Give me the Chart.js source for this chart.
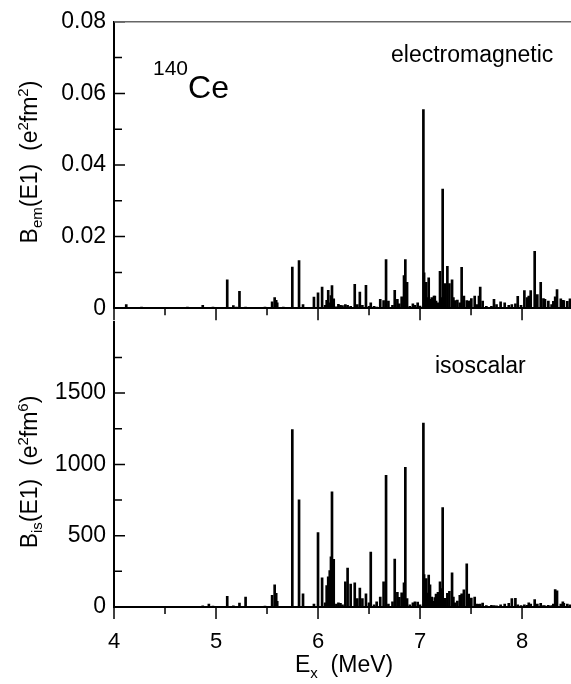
<!DOCTYPE html>
<html>
<head>
<script src="https://cdn.jsdelivr.net/npm/chart.js@4"></script>
<style>
  html, body { margin: 0; padding: 0; background: #fff; overflow: hidden; }
  #wrap { position: relative; width: 571px; height: 684px; }
  canvas { position: absolute; left: 0; }
  #top { top: 0; }
  #bot { top: 300px; }
</style>
</head>
<body>
<div id="wrap">
  <canvas id="bot" width="571" height="384"></canvas>
  <canvas id="top" width="571" height="330"></canvas>
</div>
<script>
// excitation energies (MeV) of the E1 states
const energies = [
  4.12, 4.27, 4.45, 4.60, 4.72, 4.87, 4.93, 4.97, 5.11, 5.17,
  5.20, 5.23, 5.29, 5.35, 5.42, 5.48, 5.55, 5.575, 5.59, 5.60,
  5.66, 5.748, 5.814, 5.853, 5.90, 5.96, 6.00, 6.04, 6.07, 6.085,
  6.10, 6.115, 6.127, 6.137, 6.154, 6.18, 6.20, 6.22, 6.24, 6.268,
  6.29, 6.32, 6.36, 6.385, 6.41, 6.435, 6.47, 6.50, 6.517, 6.55,
  6.575, 6.61, 6.643, 6.667, 6.69, 6.73, 6.752, 6.778, 6.797, 6.82,
  6.843, 6.856, 6.873, 6.90, 6.93, 6.95, 6.977, 7.00, 7.033, 7.04,
  7.06, 7.07, 7.085, 7.098, 7.115, 7.137, 7.145, 7.157, 7.176, 7.196,
  7.208, 7.222, 7.248, 7.268, 7.288, 7.314, 7.327, 7.34, 7.366, 7.39,
  7.408, 7.43, 7.458, 7.477, 7.49, 7.503, 7.536, 7.56, 7.578, 7.59,
  7.614, 7.65, 7.70, 7.725, 7.75, 7.79, 7.83, 7.87, 7.90, 7.935,
  7.958, 7.99, 8.023, 8.05, 8.066, 8.085, 8.124, 8.15, 8.183, 8.21,
  8.225, 8.258, 8.29, 8.307, 8.325, 8.343, 8.38, 8.40, 8.41, 8.444, 8.47
];

// electromagnetic strength B_em(E1), e^2 fm^2
const bEm = [
  0.0010, 0.0003, 0.0002, 0.0002, 0.0003, 0.0008, 0.0002, 0.0003, 0.0079, 0.0007,
  0.0003, 0.0047, 0.0003, 0.0002, 0.0002, 0.0003, 0.0018, 0.0030, 0.0022, 0.0015,
  0.0003, 0.0115, 0.0133, 0.0010, 0.0002, 0.0031, 0.0043, 0.0059, 0.0008, 0.0022,
  0.0050, 0.0015, 0.0035, 0.0063, 0.0026, 0.0004, 0.0011, 0.0008, 0.0007, 0.0010,
  0.0008, 0.0005, 0.0067, 0.0010, 0.0045, 0.0008, 0.0064, 0.0005, 0.0015, 0.0005,
  0.0003, 0.0025, 0.0021, 0.0136, 0.0020, 0.0008, 0.0050, 0.0025, 0.0012, 0.0032,
  0.0091, 0.0136, 0.0072, 0.0005, 0.0012, 0.0008, 0.0015, 0.0006, 0.0555, 0.0099,
  0.0072, 0.0030, 0.0085, 0.0025, 0.0030, 0.0034, 0.0034, 0.0020, 0.0015, 0.0103,
  0.0030, 0.0333, 0.0069, 0.0117, 0.0069, 0.0079, 0.0030, 0.0021, 0.0023, 0.0015,
  0.0114, 0.0034, 0.0021, 0.0020, 0.0020, 0.0027, 0.0034, 0.0010, 0.0034, 0.0059,
  0.0020, 0.0005, 0.0005, 0.0025, 0.0010, 0.0018, 0.0015, 0.0008, 0.0010, 0.0012,
  0.0033, 0.0008, 0.0049, 0.0030, 0.0034, 0.0049, 0.0159, 0.0038, 0.0072, 0.0027,
  0.0025, 0.0020, 0.0010, 0.0019, 0.0032, 0.0052, 0.0026, 0.0022, 0.0021, 0.0019, 0.0026
];

// isoscalar strength B_is(E1), e^2 fm^6
const bIs = [
  5, 2, 3, 3, 5, 8, 20, 6, 75, 8,
  5, 28, 70, 4, 5, 6, 81, 156, 95, 40,
  4, 1245, 752, 93, 5, 20, 522, 205, 30, 150,
  212, 255, 352, 808, 334, 20, 30, 25, 15, 176,
  273, 160, 170, 59, 133, 59, 93, 30, 386, 15,
  36, 70, 176, 924, 20, 36, 336, 102, 68, 100,
  170, 980, 59, 15, 30, 36, 35, 15, 1289, 228,
  200, 98, 223, 156, 70, 40, 66, 90, 102, 176,
  130, 698, 60, 95, 110, 240, 70, 30, 41, 81,
  93, 120, 303, 90, 40, 63, 70, 20, 18, 20,
  27, 10, 12, 10, 8, 15, 20, 25, 59, 60,
  15, 10, 15, 12, 30, 20, 52, 20, 25, 10,
  8, 12, 10, 20, 122, 113, 20, 36, 25, 20, 15
];

const xMajor = [4, 5, 6, 7, 8];
const xMinor = [4.5, 5.5, 6.5, 7.5];
const emMajor = [0, 0.02, 0.04, 0.06, 0.08];
const emMinor = [0.01, 0.03, 0.05, 0.07];
const isMajor = [0, 500, 1000, 1500];
const isMinor = [250, 750, 1250, 1750];

const FONT = '"Liberation Sans", Arial, sans-serif';
Chart.defaults.font.family = FONT;
Chart.defaults.color = '#000';

// draw a run of text pieces of different sizes (sub/superscripts)
function richText(ctx, parts, x, y, center) {
  let w = 0;
  parts.forEach(p => { ctx.font = p[1] + 'px ' + FONT; w += ctx.measureText(p[0]).width; });
  let cx = center ? x - w / 2 : x;
  parts.forEach(p => {
    ctx.font = p[1] + 'px ' + FONT;
    ctx.fillText(p[0], cx, y + (p[2] || 0));
    cx += ctx.measureText(p[0]).width;
  });
}

const decor = {
  id: 'decor',
  afterDraw(chart, args, opts) {
    const { ctx, chartArea: a, scales } = chart;
    ctx.save();
    ctx.strokeStyle = '#000';
    ctx.lineWidth = 1.5;
    ctx.beginPath();
    xMajor.forEach(v => { const p = scales.x.getPixelForValue(v); ctx.moveTo(p, a.bottom); ctx.lineTo(p, a.bottom + 12); });
    xMinor.forEach(v => { const p = scales.x.getPixelForValue(v); ctx.moveTo(p, a.bottom); ctx.lineTo(p, a.bottom + 7); });
    opts.yMajor.forEach(v => { const p = scales.y.getPixelForValue(v); ctx.moveTo(a.left, p); ctx.lineTo(a.left + 11, p); });
    opts.yMinor.forEach(v => { const p = scales.y.getPixelForValue(v); ctx.moveTo(a.left, p); ctx.lineTo(a.left + 8, p); });
    ctx.stroke();
    if (opts.topBorder) {
      ctx.strokeStyle = '#666';
      ctx.beginPath();
      ctx.moveTo(a.left, a.top); ctx.lineTo(a.right, a.top);
      ctx.stroke();
    }
    ctx.fillStyle = '#000';
    ctx.textBaseline = 'alphabetic';
    opts.texts.forEach(t => {
      if (t.rotate) {
        ctx.save();
        ctx.translate(t.x, t.y);
        ctx.rotate(-Math.PI / 2);
        richText(ctx, t.parts, 0, 0, true);
        ctx.restore();
      } else {
        richText(ctx, t.parts, t.x, t.y, false);
      }
    });
    ctx.restore();
  }
};

function makeChart(id, values, cfg) {
  return new Chart(document.getElementById(id), {
    type: 'bar',
    data: {
      datasets: [{
        data: energies.map((e, i) => ({ x: e, y: values[i] })),
        backgroundColor: '#000',
        barThickness: 2,
        borderWidth: 0
      }]
    },
    options: {
      responsive: false,
      animation: false,
      events: [],
      layout: { padding: { top: cfg.padTop, right: 0, left: 0, bottom: 0 } },
      plugins: { legend: { display: false }, tooltip: { enabled: false }, decor: cfg.decor },
      scales: {
        x: {
          type: 'linear', min: 4, max: 8.48, offset: false,
          afterFit: s => { s.height = cfg.xHeight; },
          grid: { drawOnChartArea: false, drawTicks: false },
          border: { color: '#000', width: 2 },
          ticks: { display: cfg.xLabels, stepSize: 1, includeBounds: false, padding: 22, font: { size: 22 }, maxRotation: 0 }
        },
        y: {
          min: 0, max: cfg.yMax,
          afterFit: s => { s.width = 114; },
          grid: { drawOnChartArea: false, drawTicks: false },
          border: { color: '#000', width: 2 },
          ticks: { stepSize: cfg.yStep, padding: 8, font: { size: 23 }, callback: cfg.yFmt }
        }
      }
    },
    plugins: [decor]
  });
}

makeChart('top', bEm, {
  padTop: 16, xHeight: 18, xLabels: false, yMax: 0.08, yStep: 0.02,
  yFmt: v => v === 0 ? '0' : v.toFixed(2),
  decor: {
    yMajor: emMajor, yMinor: emMinor, topBorder: true,
    texts: [
      { x: 153, y: 98, parts: [['140', 21, -23], ['Ce', 32, 0]] },
      { x: 391, y: 62, parts: [['electromagnetic', 23]] },
      { rotate: true, x: 37, y: 162, parts: [['B', 23], ['em', 15, 5], ['(E1)  (e', 23], ['2', 15, -9], ['fm', 23], ['2', 15, -9], [')', 23]] }
    ]
  }
});

makeChart('bot', bIs, {
  padTop: 12, xHeight: 77, xLabels: true, yMax: 2000, yStep: 500,
  yFmt: v => v >= 2000 ? '' : String(v),
  decor: {
    yMajor: isMajor, yMinor: isMinor, topBorder: false,
    texts: [
      { x: 435, y: 73, parts: [['isoscalar', 23]] },
      { rotate: true, x: 37, y: 172, parts: [['B', 23], ['is', 15, 5], ['(E1)  (e', 23], ['2', 15, -9], ['fm', 23], ['6', 15, -9], [')', 23]] },
      { x: 295, y: 372, parts: [['E', 23], ['x', 15, 6], ['  (MeV)', 23]] }
    ]
  }
});
</script>
</body>
</html>
